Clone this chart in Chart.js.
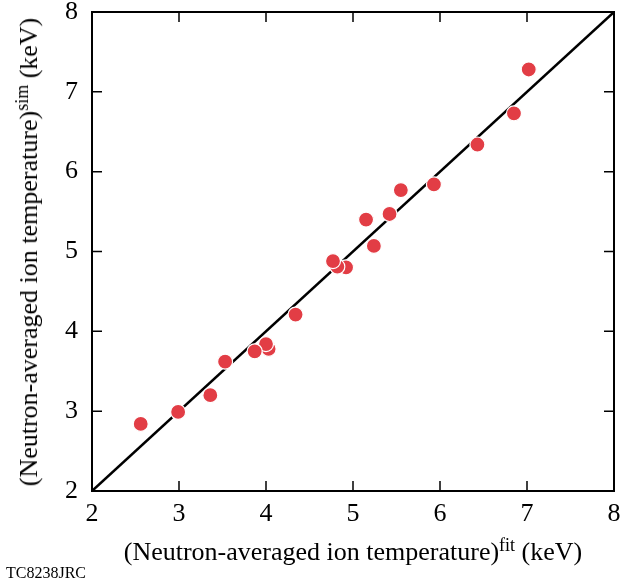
<!DOCTYPE html>
<html><head><meta charset="utf-8">
<script src="https://cdn.jsdelivr.net/npm/chart.js@4/dist/chart.umd.min.js"></script>
<style>
html,body{margin:0;padding:0;background:#fff;}
#wrap{position:relative;width:629px;height:582px;}
canvas{position:absolute;left:0;top:0;}
.t{position:absolute;font-family:"Liberation Serif","Times New Roman",serif;color:#000;white-space:nowrap;line-height:1;}
.sup{font-size:18px;position:relative;top:-9px;}
</style></head><body>
<div id="wrap"><canvas id="c" width="629" height="582"></canvas>
<div class="t" id="xt" style="font-size:26px;left:353px;top:552px;transform:translate(-50%,-50%)">(Neutron-averaged ion temperature)<span class="sup">fit</span> (keV)</div>
<div class="t" id="yt" style="font-size:26px;left:29px;top:252px;transform:translate(-50%,-50%) rotate(-90deg)">(Neutron-averaged ion temperature)<span class="sup">sim</span> (keV)</div>
<div class="t" style="font-size:16px;left:6px;top:565px">TC8238JRC</div>
</div>
<script>
// Data (sorted so overlapping markers stack like the reference)
const xFit = [7.02, 6.85, 6.43, 5.93, 5.55, 5.42, 5.24, 5.15, 4.92, 4.82, 4.77, 4.34, 4.03, 4.00, 3.87, 3.53, 3.36, 2.99, 2.56];
const ySim = [7.28, 6.73, 6.34, 5.84, 5.77, 5.47, 5.07, 5.40, 4.80, 4.81, 4.88, 4.21, 3.78, 3.84, 3.75, 3.62, 3.20, 2.99, 2.84];
const lineX = [2, 8];
const lineY = [2, 8];
const xTicks = [2, 3, 4, 5, 6, 7, 8];
const yTicks = [2, 3, 4, 5, 6, 7, 8];

const pts = xFit.map((x, i) => ({x: x, y: ySim[i]}));
const linePts = lineX.map((x, i) => ({x: x, y: lineY[i]}));

const frame = {
  id: 'frame',
  afterDraw(chart) {
    const {ctx, chartArea: a, scales} = chart;
    ctx.save();
    ctx.strokeStyle = '#000';
    ctx.lineWidth = 2;
    ctx.strokeRect(a.left, a.top, a.right - a.left, a.bottom - a.top);
    ctx.lineWidth = 1.5;
    const L = 10;
    ctx.beginPath();
    xTicks.slice(1, -1).forEach(v => {
      const p = scales.x.getPixelForValue(v);
      ctx.moveTo(p, a.bottom); ctx.lineTo(p, a.bottom - L);
      ctx.moveTo(p, a.top); ctx.lineTo(p, a.top + L);
    });
    yTicks.slice(1, -1).forEach(v => {
      const p = scales.y.getPixelForValue(v);
      ctx.moveTo(a.left, p); ctx.lineTo(a.left + L, p);
      ctx.moveTo(a.right, p); ctx.lineTo(a.right - L, p);
    });
    ctx.stroke();
    ctx.restore();
  }
};

const font = {family: '"Liberation Serif","Times New Roman",serif', size: 26};

new Chart(document.getElementById('c'), {
  type: 'scatter',
  data: {
    datasets: [
      {type: 'scatter', data: pts, pointRadius: 7.5, pointHoverRadius: 7.5,
       backgroundColor: '#e23d45', borderColor: '#ffffff', borderWidth: 1.2, order: 1},
      {type: 'line', data: linePts, borderColor: '#000', borderWidth: 2.5,
       pointRadius: 0, fill: false, showLine: true, order: 2}
    ]
  },
  options: {
    responsive: false,
    animation: false,
    devicePixelRatio: 1,
    layout: {padding: {top: 12, right: 15, left: 0, bottom: 0}},
    plugins: {legend: {display: false}, tooltip: {enabled: false}},
    scales: {
      x: {
        type: 'linear', min: 2, max: 8,
        afterBuildTicks: s => { s.ticks = xTicks.map(v => ({value: v})); },
        ticks: {font: font, color: '#000', padding: 8, maxRotation: 0},
        grid: {display: false, drawTicks: false},
        border: {display: false},
        afterFit: s => { s.height = 91; s.paddingLeft = 0; s.paddingRight = 0; }
      },
      y: {
        type: 'linear', min: 2, max: 8,
        afterBuildTicks: s => { s.ticks = yTicks.map(v => ({value: v})); },
        ticks: {font: font, color: '#000', padding: 14},
        grid: {display: false, drawTicks: false},
        border: {display: false},
        afterFit: s => { s.width = 92; s.paddingTop = 0; s.paddingBottom = 0; }
      }
    }
  },
  plugins: [frame]
});
</script>
</body></html>
